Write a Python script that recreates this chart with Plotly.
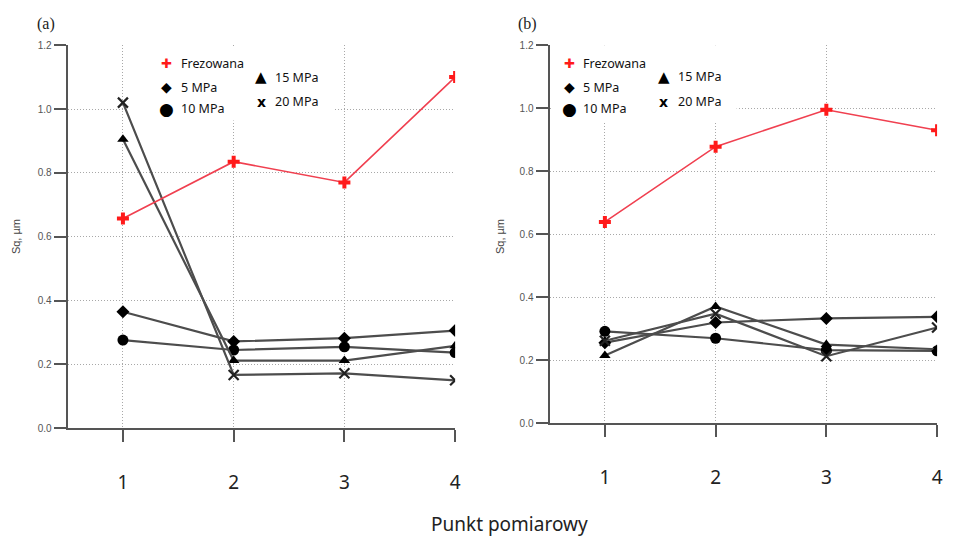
import plotly.graph_objects as go

points = [1, 2, 3, 4]
tick_labels = ["1", "2", "3", "4"]
series_names = ["Frezowana", "5 MPa", "10 MPa", "15 MPa", "20 MPa"]

# panel (a)
a_frez = [0.657, 0.835, 0.770, 1.100]
a_5 = [0.365, 0.272, 0.282, 0.306]
a_10 = [0.276, 0.245, 0.255, 0.237]
a_15 = [0.905, 0.212, 0.212, 0.258]
a_20 = [1.020, 0.167, 0.172, 0.150]

# panel (b)
b_frez = [0.639, 0.878, 0.995, 0.930]
b_5 = [0.256, 0.320, 0.333, 0.338]
b_10 = [0.292, 0.270, 0.232, 0.230]
b_15 = [0.215, 0.371, 0.250, 0.235]
b_20 = [0.262, 0.348, 0.213, 0.304]

W, H = 954, 541
LINE_GREY = "#4d4d4d"
RED = "#ff1a1a"

fig = go.Figure()

def add_panel(xa, ya, frez, s5, s10, s15, s20):
    specs = [
        (s5, dict(symbol="diamond", size=10, color="black")),
        (s10, dict(symbol="circle", size=11, color="black")),
        (s15, dict(symbol="triangle-up", size=10, color="black")),
        (s20, dict(symbol="x-thin", size=10, color="black", line=dict(width=2.2, color="#222"))),
    ]
    for vals, mk in specs:
        fig.add_trace(go.Scatter(x=points, y=vals, mode="lines+markers", xaxis=xa, yaxis=ya,
                                 line=dict(color=LINE_GREY, width=2.2), marker=mk, showlegend=False))
    fig.add_trace(go.Scatter(x=points, y=frez, mode="lines+markers", xaxis=xa, yaxis=ya,
                             line=dict(color="#f04050", width=1.6),
                             marker=dict(symbol="cross", size=10, color=RED), showlegend=False))

add_panel("x", "y", a_frez, a_5, a_10, a_15, a_20)
add_panel("x2", "y2", b_frez, b_5, b_10, b_15, b_20)

GRID = dict(showgrid=True, gridcolor="#a8a8a8", griddash="1px,2px", gridwidth=1.2, zeroline=False)
xcommon = dict(range=[0.5, 4], tickvals=points, ticktext=tick_labels, showline=True, linecolor="#555",
               linewidth=2, ticks="outside", ticklen=12, tickwidth=2, tickcolor="#555",
               tickfont=dict(family="Noto Sans", size=19, color="#222"), ticklabelstandoff=24, **GRID)
ycommon = dict(range=[0, 1.2], tickvals=[0, 0.2, 0.4, 0.6, 0.8, 1.0, 1.2],
               ticktext=["0.0", "0.2", "0.4", "0.6", "0.8", "1.0", "1.2"],
               showline=True, linecolor="#555", linewidth=2, ticks="outside", ticklen=12, tickwidth=1.5,
               tickcolor="#555", tickfont=dict(family="Liberation Sans", size=10, color="#555"), **GRID)

fig.update_layout(
    width=W, height=H, margin=dict(l=0, r=0, t=0, b=0),
    paper_bgcolor="white", plot_bgcolor="white", showlegend=False,
    xaxis=dict(domain=[68 / W, 458 / W], anchor="y", **xcommon),
    yaxis=dict(domain=[(H - 432) / H, (H - 41) / H], anchor="x", **ycommon),
    xaxis2=dict(domain=[553 / W, 943 / W], anchor="y2", **xcommon),
    yaxis2=dict(domain=[(H - 427) / H, (H - 41) / H], anchor="x2", **ycommon),
)

# legend boxes hiding gridlines
fig.add_shape(type="rect", xref="x", yref="y", x0=1.03, x1=2.91, y0=0.964, y1=1.193,
              fillcolor="white", line=dict(width=0), layer="between")
fig.add_shape(type="rect", xref="x2", yref="y2", x0=0.53, x1=2.19, y0=0.955, y1=1.21,
              fillcolor="white", line=dict(width=0), layer="between")

ann = []
def px(xp, yp):
    return xp / W, 1 - yp / H

def legend(x0, x1, ys):
    sym = [("✚", RED, 13, x0, ys[0]), ("◆", "black", 14, x0, ys[1]), ("●", "black", 17, x0, ys[2]),
           ("▲", "black", 15, x1, ys[3]), ("<b>x</b>", "black", 14, x1, ys[4])]
    for (s, c, sz, xx, yy), name in zip(sym, series_names):
        X, Y = px(xx, yy)
        ann.append(dict(x=X, y=Y, xref="paper", yref="paper", text=s, showarrow=False,
                        font=dict(size=sz, color=c, family="DejaVu Sans"), xanchor="center", yanchor="middle"))
        X2, _ = px(xx + 12, yy)
        ann.append(dict(x=X2, y=Y, xref="paper", yref="paper", text=name, showarrow=False,
                        font=dict(size=12.5, color="#111", family="Noto Sans"), xanchor="left", yanchor="middle"))

legend(168, 263, [60, 84, 106, 74, 99])
legend(573, 668, [60, 84, 106, 73, 99])

for xp, t in [(46, "(a)"), (531, "(b)")]:
    X, Y = px(xp, 19)
    ann.append(dict(x=X, y=Y, xref="paper", yref="paper", text=t, showarrow=False,
                    font=dict(size=16, color="#222", family="Liberation Serif"), xanchor="center", yanchor="middle"))
for xp in [16, 503]:
    X, Y = px(xp, 236)
    ann.append(dict(x=X, y=Y, xref="paper", yref="paper", text="Sq, µm", showarrow=False, textangle=-90,
                    font=dict(size=11, color="#444", family="Liberation Sans"), xanchor="center", yanchor="middle"))
X, Y = px(513, 530)
ann.append(dict(x=X, y=Y, xref="paper", yref="paper", text="Punkt pomiarowy", showarrow=False,
                font=dict(size=19, color="#222", family="Noto Sans"), xanchor="center", yanchor="middle"))
fig.update_layout(annotations=ann)

fig.write_html("out.html")
